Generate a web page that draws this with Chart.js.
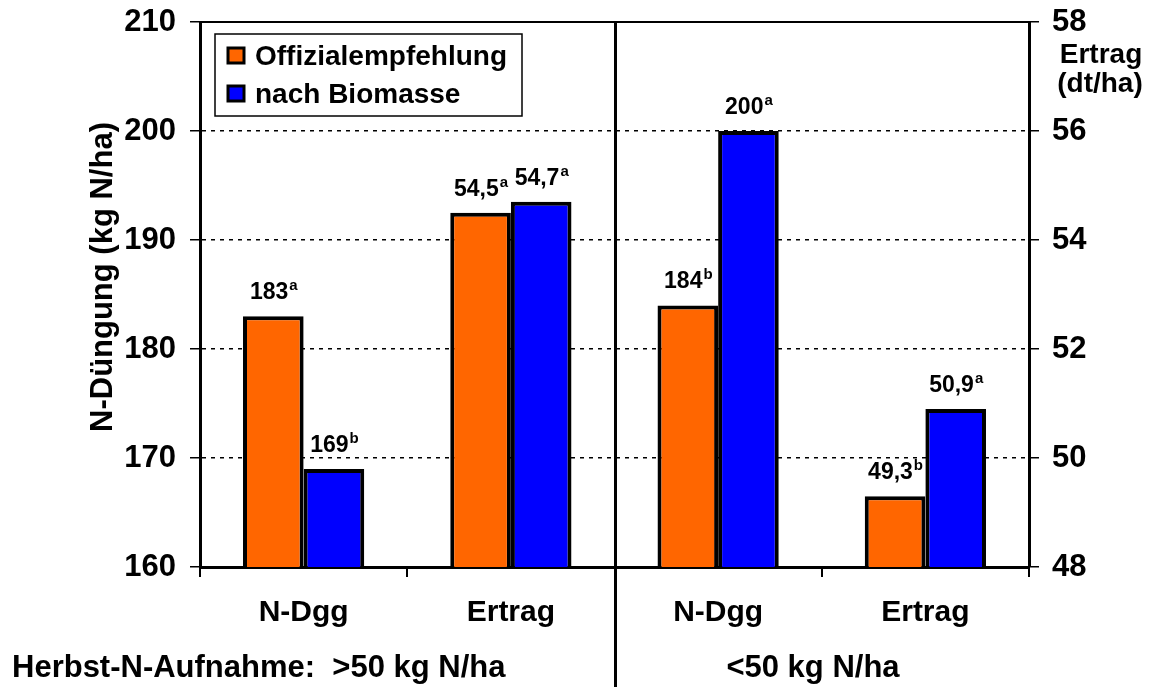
<!DOCTYPE html>
<html>
<head>
<meta charset="utf-8">
<script src="https://cdn.jsdelivr.net/npm/chart.js@4/dist/chart.umd.min.js"></script>
<style>
  body { margin: 0; background: #fff; }
  #wrap { width: 1159px; height: 687px; position: relative; }
</style>
</head>
<body>
<div id="wrap"><canvas id="grafico"></canvas></div>
<script>
// ================= DADOS =================
const kategorien = ["N-Dgg", "Ertrag", "N-Dgg", "Ertrag"]

// N-Düngung (linke Achse, kg N/ha)
const duengungOffizial = [183, null, 184, null]
const duengungBiomasse = [169, null, 200, null]

// Ertrag (rechte Achse, dt/ha)
const ertragOffizial = [null, 54.5, null, 49.3]
const ertragBiomasse = [null, 54.7, null, 50.9]

// Signifikanzbuchstaben
const buchstabenOffizial = ["a", "a", "b", "b"]
const buchstabenBiomasse = ["b", "a", "a", "a"]

const serienNamen = ["Offizialempfehlung", "nach Biomasse"]
const farbeOrange = "#ff6600"
const farbeBlau = "#0000ff"

const FONT = "'Liberation Sans', Arial, sans-serif"

// ================= HILFSFUNKTIONEN =================
function formatWert(v) {
    return Number.isInteger(v) ? String(v) : v.toFixed(1).replace(".", ",")
}

// Zahl + hochgestellter Buchstabe, zentriert über x
function zeichneLabel(ctx, x, y, text, hoch) {
    ctx.font = "bold 23px " + FONT
    const wText = ctx.measureText(text).width
    ctx.font = "bold 15px " + FONT
    const wHoch = ctx.measureText(hoch).width
    const start = x - (wText + wHoch) / 2
    ctx.textAlign = "left"
    ctx.textBaseline = "alphabetic"
    ctx.font = "bold 23px " + FONT
    ctx.fillText(text, start, y)
    ctx.font = "bold 15px " + FONT
    ctx.fillText(hoch, start + wText + 1, y - 9)
}

// Achsen ohne zusätzlichen Rand für überstehende Beschriftungen
function festeBreite(breite) {
    return s => {
        s.width = breite
        s.paddingTop = 0
        s.paddingBottom = 0
    }
}

// ================= PLUGIN: Beschriftungen =================
const extras = {
    id: "extras",
    afterDatasetsDraw(chart) {
        const ctx = chart.ctx
        const area = chart.chartArea
        ctx.save()
        ctx.fillStyle = "#000"

        // Werte über den Balken
        const buchstaben = [buchstabenOffizial, buchstabenBiomasse, buchstabenOffizial, buchstabenBiomasse]
        chart.data.datasets.forEach((ds, i) => {
            const meta = chart.getDatasetMeta(i)
            ds.data.forEach((v, j) => {
                if (v === null) return
                const el = meta.data[j]
                zeichneLabel(ctx, el.x, el.y - 17, formatWert(v), buchstaben[i][j])
            })
        })

        // obere Rahmenlinie
        ctx.strokeStyle = "#000"
        ctx.lineWidth = 2
        ctx.beginPath()
        ctx.moveTo(area.left, area.top)
        ctx.lineTo(area.right, area.top)
        ctx.stroke()

        // Trennlinie
        const mitte = (area.left + area.right) / 2 + 1
        ctx.lineWidth = 3
        ctx.beginPath()
        ctx.moveTo(mitte, area.top)
        ctx.lineTo(mitte, chart.height)
        ctx.stroke()

        // Legende
        const lx = area.left + 15, ly = area.top + 12
        ctx.fillStyle = "#fff"
        ctx.fillRect(lx, ly, 307, 82)
        ctx.lineWidth = 1.5
        ctx.strokeRect(lx, ly, 307, 82)
        const farben = [farbeOrange, farbeBlau]
        serienNamen.forEach((name, i) => {
            const yy = ly + 31 + i * 38
            ctx.fillStyle = farben[i]
            ctx.fillRect(lx + 13, yy - 17, 16, 15)
            ctx.lineWidth = 3
            ctx.strokeStyle = "#000"
            ctx.strokeRect(lx + 13, yy - 17, 16, 15)
            ctx.fillStyle = "#000"
            ctx.font = "bold 28px " + FONT
            ctx.textAlign = "left"
            ctx.textBaseline = "alphabetic"
            ctx.fillText(name, lx + 40, yy)
        })

        // Achsentitel links
        ctx.save()
        ctx.translate(112, 277)
        ctx.rotate(-Math.PI / 2)
        ctx.font = "bold 31px " + FONT
        ctx.textAlign = "center"
        ctx.fillText("N-Düngung (kg N/ha)", 0, 0)
        ctx.restore()

        // Achsentitel rechts
        ctx.font = "bold 28px " + FONT
        ctx.textAlign = "center"
        ctx.fillText("Ertrag", 1101, 63)
        ctx.fillText("(dt/ha)", 1100, 92)

        // untere Beschriftung
        ctx.font = "bold 31px " + FONT
        ctx.textAlign = "left"
        ctx.fillText("Herbst-N-Aufnahme:  >50 kg N/ha", 12, 677)
        ctx.textAlign = "center"
        ctx.fillText("<50 kg N/ha", 813, 677)

        ctx.restore()
    }
}

// ================= GRÁFICO =================
const balken = (label, data, farbe, achse) => ({
    label: label,
    data: data,
    yAxisID: achse,
    backgroundColor: farbe,
    borderColor: "#000",
    borderWidth: 4,
    borderSkipped: "start",
    skipNull: true,
    categoryPercentage: 0.585,
    barPercentage: 1.0
})

new Chart(document.getElementById("grafico"), {
    type: "bar",
    data: {
        labels: kategorien,
        datasets: [
            balken(serienNamen[0], duengungOffizial, farbeOrange, "y"),
            balken(serienNamen[1], duengungBiomasse, farbeBlau, "y"),
            balken(serienNamen[0], ertragOffizial, farbeOrange, "y1"),
            balken(serienNamen[1], ertragBiomasse, farbeBlau, "y1")
        ]
    },
    options: {
        responsive: true,
        maintainAspectRatio: false,
        animation: false,
        layout: { padding: { top: 22, left: 0, right: 0, bottom: 0 } },
        plugins: {
            legend: { display: false },
            tooltip: { enabled: false }
        },
        scales: {
            x: {
                offset: true,
                grid: { offset: true, drawOnChartArea: false, color: "#000", lineWidth: 2, tickLength: 10 },
                border: { color: "#000", width: 3 },
                ticks: { color: "#000", font: { family: FONT, size: 30, weight: "bold" }, padding: 18 },
                afterFit: s => {
                    s.height = 120
                    s.paddingLeft = 0
                    s.paddingRight = 0
                }
            },
            y: {
                position: "left",
                min: 160,
                max: 210,
                ticks: { stepSize: 10, color: "#000", font: { family: FONT, size: 31, weight: "bold" }, padding: 14 },
                grid: { color: "#000", lineWidth: 1.5, tickLength: 10, tickBorderDash: [] },
                border: { color: "#000", width: 3, dash: [4, 5] },
                afterFit: festeBreite(200)
            },
            y1: {
                position: "right",
                min: 48,
                max: 58,
                ticks: { stepSize: 2, color: "#000", font: { family: FONT, size: 31, weight: "bold" }, padding: 13 },
                grid: { drawOnChartArea: false, color: "#000", lineWidth: 1.5, tickLength: 10 },
                border: { color: "#000", width: 3 },
                afterFit: festeBreite(130)
            }
        }
    },
    plugins: [extras]
})
</script>
</body>
</html>
